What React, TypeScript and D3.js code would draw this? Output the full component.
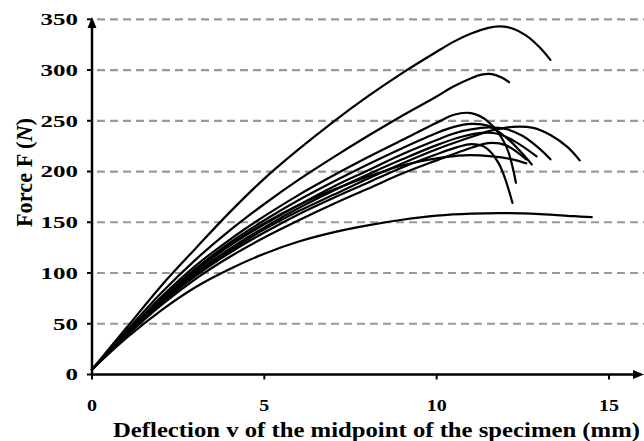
import React, { useRef, useEffect } from 'react';
import * as d3 from 'd3';

type Pt = [number, number];

// deflection (mm), force (N), one array per specimen
const specimenA: Pt[] = [[0, 5], [1, 46], [2, 87], [3, 124], [4, 160], [5, 193], [6, 222], [7, 249], [8, 274], [9, 297], [10, 318], [10.5, 328], [11, 336], [11.5, 341.5], [11.8, 343], [12.2, 341], [12.6, 334], [13, 322], [13.3, 310]];
const specimenB: Pt[] = [[0, 5], [1, 43], [2, 80], [3, 113], [4, 142], [5, 168], [6, 192], [7, 214], [8, 235], [9, 255], [10, 274], [10.5, 284], [11, 292], [11.3, 295.5], [11.6, 296], [11.9, 292.5], [12.1, 288]];
const specimenC: Pt[] = [[0, 5], [1, 41], [2, 76], [3, 107], [4, 133], [5, 156], [6, 177], [7, 196], [8, 214], [9, 231], [10, 248], [10.5, 256], [11, 257.5], [11.5, 249], [12, 226], [12.3, 189]];
const specimenD: Pt[] = [[0, 5], [1, 40], [2, 74], [3, 104], [4, 130], [5, 152], [6, 172], [7, 190], [8, 207], [9, 223], [10, 238], [10.5, 244], [11, 247], [11.5, 245], [12, 234], [12.4, 221], [12.76, 207]];
const specimenE: Pt[] = [[0, 5], [1, 40], [2, 73], [3, 102], [4, 127], [5, 148], [6, 167], [7, 185], [8, 201], [9, 217], [10, 231], [10.5, 237.5], [11, 241.5], [11.5, 243.5], [12, 242], [12.5, 235], [13, 222], [13.3, 212]];
const specimenF: Pt[] = [[0, 5], [1, 39], [2, 71], [3, 98], [4, 122], [5, 143], [6, 161], [7, 177], [8, 193], [9, 208], [10, 222], [11, 234], [11.6, 240.5], [12.2, 244], [12.8, 243], [13.3, 236], [13.8, 224], [14.15, 211]];
const specimenG: Pt[] = [[0, 5], [1, 40], [2, 72], [3, 100], [4, 124], [5, 145], [6, 164], [7, 181], [8, 197], [9, 212], [10, 226], [10.7, 234], [11.3, 238], [11.8, 237], [12.3, 229], [12.9, 215]];
const specimenH: Pt[] = [[0, 5], [1, 39], [2, 70], [3, 97], [4, 120], [5, 140], [6, 158], [7, 174], [8, 189], [9, 204], [10, 217], [10.6, 224], [11, 227], [11.4, 224], [11.8, 208], [12.2, 169]];
const specimenI: Pt[] = [[0, 5], [1, 38], [2, 68], [3, 94], [4, 116], [5, 135], [6, 152], [7, 168], [8, 183], [9, 198], [10, 211], [10.8, 221], [11.5, 228], [12, 226], [12.6, 212]];
const specimenJ: Pt[] = [[0, 5], [1, 40], [2, 74], [3, 103], [4, 128], [5, 149], [6, 167], [7, 182], [8, 195], [9, 206], [10, 213], [10.8, 216], [11.6, 215], [12.2, 212], [12.6, 208]];
const specimenK: Pt[] = [[0, 5], [1, 36], [2, 63], [3, 86], [4, 104], [5, 119], [6, 131], [7, 140], [8, 147], [9, 152.5], [10, 156.5], [11, 158.5], [12, 159], [13, 158], [14, 156], [14.5, 155]];

const specimens = [specimenA, specimenB, specimenC, specimenD, specimenE, specimenF, specimenG, specimenH, specimenI, specimenJ, specimenK];

const xTicks = [0, 5, 10, 15];
const yTicks = [0, 50, 100, 150, 200, 250, 300, 350];

const width = 644;
const height = 441;

const App: React.FC = () => {
  const svgRef = useRef<SVGSVGElement>(null);

  useEffect(() => {
    if (!svgRef.current) return;
    const svg = d3.select(svgRef.current);
    svg.selectAll('*').remove();

    const x = d3.scaleLinear().domain([0, 15]).range([92, 609]);
    const y = d3.scaleLinear().domain([0, 350]).range([374.5, 19.3]);
    const font = "'Liberation Serif', 'Times New Roman', serif";

    // dashed gridlines
    svg.append('g')
      .selectAll('line')
      .data(yTicks.filter(d => d > 0))
      .enter()
      .append('line')
      .attr('x1', 97)
      .attr('x2', width)
      .attr('y1', d => y(d))
      .attr('y2', d => y(d))
      .attr('stroke', '#999')
      .attr('stroke-width', 2.2)
      .attr('stroke-dasharray', '8,5');

    // curves
    const line = d3.line<Pt>()
      .x(d => x(d[0]))
      .y(d => y(d[1]))
      .curve(d3.curveCatmullRom.alpha(0.5));

    svg.append('g')
      .selectAll('path')
      .data(specimens)
      .enter()
      .append('path')
      .attr('d', d => line(d))
      .attr('fill', 'none')
      .attr('stroke', '#000')
      .attr('stroke-width', 2.2)
      .attr('stroke-linecap', 'round');

    // axes
    const x0 = x(0);
    const y0 = y(0);
    svg.append('line')
      .attr('x1', x0).attr('x2', width - 8)
      .attr('y1', y0).attr('y2', y0)
      .attr('stroke', '#000').attr('stroke-width', 2.5);
    svg.append('path')
      .attr('d', `M${width},${y0} L${width - 11},${y0 - 4.5} L${width - 11},${y0 + 4.5} Z`)
      .attr('fill', '#000');
    svg.append('line')
      .attr('x1', x0).attr('x2', x0)
      .attr('y1', y0).attr('y2', 26)
      .attr('stroke', '#000').attr('stroke-width', 2.5);
    svg.append('path')
      .attr('d', `M${x0},17 L${x0 - 4.5},28 L${x0 + 4.5},28 Z`)
      .attr('fill', '#000');

    // ticks
    svg.append('g')
      .selectAll('line')
      .data(yTicks)
      .enter()
      .append('line')
      .attr('x1', x0 - 5).attr('x2', x0)
      .attr('y1', d => y(d)).attr('y2', d => y(d))
      .attr('stroke', '#000').attr('stroke-width', 2);
    svg.append('g')
      .selectAll('line')
      .data(xTicks)
      .enter()
      .append('line')
      .attr('x1', d => x(d)).attr('x2', d => x(d))
      .attr('y1', y0).attr('y2', y0 + 5)
      .attr('stroke', '#000').attr('stroke-width', 2);

    // tick labels
    svg.append('g')
      .selectAll('text')
      .data(yTicks)
      .enter()
      .append('text')
      .attr('x', 78)
      .attr('y', d => y(d))
      .attr('dy', '0.35em')
      .attr('text-anchor', 'end')
      .attr('font-family', font)
      .attr('font-weight', 'bold')
      .attr('font-size', 17)
      .attr('textLength', d => String(d).length * 12.5)
      .attr('lengthAdjust', 'spacingAndGlyphs')
      .text(d => d);
    svg.append('g')
      .selectAll('text')
      .data(xTicks)
      .enter()
      .append('text')
      .attr('x', d => x(d))
      .attr('y', 411)
      .attr('text-anchor', 'middle')
      .attr('font-family', font)
      .attr('font-weight', 'bold')
      .attr('font-size', 17)
      .attr('textLength', d => String(d).length * 10)
      .attr('lengthAdjust', 'spacingAndGlyphs')
      .text(d => d);

    // axis titles
    svg.append('text')
      .attr('x', 113)
      .attr('y', 437)
      .attr('font-family', font)
      .attr('font-weight', 'bold')
      .attr('font-size', 22)
      .attr('textLength', 527)
      .attr('lengthAdjust', 'spacingAndGlyphs')
      .text('Deflection v of the midpoint of the specimen (mm)');

    const yTitle = svg.append('text')
      .attr('transform', 'translate(32, 172.5) rotate(-90)')
      .attr('text-anchor', 'middle')
      .attr('font-family', font)
      .attr('font-weight', 'bold')
      .attr('font-size', 23)
      .attr('textLength', 109)
      .attr('lengthAdjust', 'spacingAndGlyphs');
    yTitle.append('tspan').text('Force F (');
    yTitle.append('tspan').attr('font-style', 'italic').text('N');
    yTitle.append('tspan').text(')');
  }, []);

  return (
    <svg
      ref={svgRef}
      width={width}
      height={height}
      style={{ position: 'absolute', left: 0, top: 0, background: '#fff' }}
    />
  );
};

export default App;
